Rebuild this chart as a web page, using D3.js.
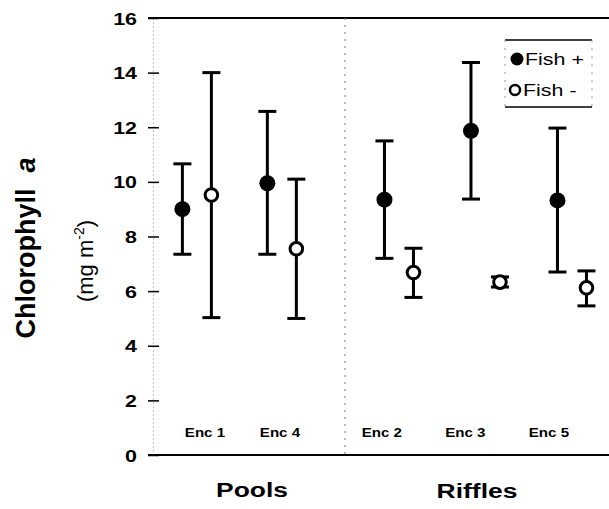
<!DOCTYPE html>
<html><head><meta charset="utf-8">
<script src="https://cdn.jsdelivr.net/npm/d3@7"></script>
<style>body{margin:0;background:#fff}svg{display:block}</style>
</head><body>
<script>
// ---- data ----
const groups = ["Pools", "Riffles"];
const poolEnclosures = ["Enc 1", "Enc 4"];
const riffleEnclosures = ["Enc 2", "Enc 3", "Enc 5"];
const seriesNames = ["Fish +", "Fish -"];
// Fish + (mean, low, high) in order Enc1, Enc4, Enc2, Enc3, Enc5
const enclosureOrder = ["Enc 1", "Enc 4", "Enc 2", "Enc 3", "Enc 5"];
const fishPlusMean = [9.0, 9.95, 9.35, 11.87, 9.32];
const fishPlusLow  = [7.35, 7.35, 7.2, 9.37, 6.7];
const fishPlusHigh = [10.66, 12.58, 11.5, 14.37, 11.97];
const fishMinusMean = [9.52, 7.55, 6.68, 6.33, 6.12];
const fishMinusLow  = [5.03, 5.0, 5.77, 6.15, 5.46];
const fishMinusHigh = [14.0, 10.1, 7.57, 6.52, 6.74];
const yTicks = [0, 2, 4, 6, 8, 10, 12, 14, 16];

// ---- layout ----
const W = 609, H = 509;
const plotLeft = 153, divider = 345, plotRight = 609, plotTop = 18, plotBottom = 455;
const svg = d3.select("body").append("svg").attr("width", W).attr("height", H);
const FONT = "Liberation Sans, Arial, Helvetica, sans-serif";
const SX = 1.26; // horizontal stretch of text in reference

const y = d3.scaleLinear().domain([0, 16]).range([plotBottom, plotTop]);
const xPools = d3.scalePoint().domain(poolEnclosures).range([plotLeft, divider]).padding(0.63).align(0.41);
const xRiffles = d3.scalePoint().domain(riffleEnclosures).range([divider, plotRight]).padding(0.526).align(0.593);
const lPools = d3.scalePoint().domain(poolEnclosures).range([plotLeft, divider]).padding(0.78).align(0.444);
const lRiffles = d3.scalePoint().domain(riffleEnclosures).range([divider, plotRight]).padding(0.58).align(0.38);
const xc = e => poolEnclosures.includes(e) ? xPools(e) : xRiffles(e);
const xl = e => poolEnclosures.includes(e) ? lPools(e) : lRiffles(e);
const dodge = d3.scalePoint().domain(seriesNames).range([-14.5, 14.5]);

function stext(parent, x, yy, str, size, weight, anchor) {
  return parent.append("text")
    .attr("transform", `translate(${x},${yy}) scale(${SX},1)`)
    .attr("text-anchor", anchor || "middle")
    .attr("font-family", FONT).attr("font-size", size).attr("font-weight", weight || "normal")
    .attr("fill", "#000").text(str);
}

// frame lines top/bottom
svg.append("line").attr("x1", 148).attr("x2", W).attr("y1", y(16)).attr("y2", y(16))
  .attr("stroke", "#000").attr("stroke-width", 2);
svg.append("line").attr("x1", 148).attr("x2", W).attr("y1", y(0)).attr("y2", y(0))
  .attr("stroke", "#000").attr("stroke-width", 2);
// divider
svg.append("line").attr("x1", divider).attr("x2", divider).attr("y1", plotTop).attr("y2", plotBottom)
  .attr("stroke", "#777").attr("stroke-width", 1).attr("stroke-dasharray", "2,5");

// y axis
const yAxis = d3.axisLeft(y).tickValues(yTicks).tickSize(0).tickPadding(0).tickFormat(d3.format("d"));
const ga = svg.append("g").attr("transform", `translate(${plotLeft},0)`).call(yAxis);
ga.select(".domain").attr("stroke", "#888").attr("stroke-width", 1).attr("stroke-dasharray", "1,3");
ga.selectAll(".tick line").attr("x1", -5).attr("x2", 6).attr("stroke", "#000").attr("stroke-width", 1.5);
ga.selectAll(".tick").each(function(d) {
  const t = d3.select(this);
  t.select("text").remove();
  stext(t, -16, 6, String(d), 17, "bold", "end");
});

// y title
const tt = svg.append("text").attr("transform", `translate(35,${248}) rotate(-90)`)
  .attr("text-anchor", "middle").attr("font-family", FONT).attr("font-size", 27).attr("font-weight", "bold");
tt.append("tspan").text("Chlorophyll");
tt.append("tspan").attr("dx", 16).attr("font-style", "italic").text("a");
const t2 = svg.append("text").attr("transform", `translate(93,${261}) rotate(-90)`)
  .attr("text-anchor", "middle").attr("font-family", FONT).attr("font-size", 22);
t2.append("tspan").text("(mg m");
t2.append("tspan").attr("dy", -9).attr("font-size", 14).text("-2");
t2.append("tspan").attr("dy", 9).text(")");

// enclosure labels
enclosureOrder.forEach(e => stext(svg, xl(e), 437, e, 12, "bold"));
// group labels
stext(svg, (plotLeft + divider) / 2 + 3, 497, groups[0], 21, "bold");
stext(svg, (divider + plotRight) / 2, 498, groups[1], 21, "bold");

// data points
const rows = [];
enclosureOrder.forEach((e, i) => {
  rows.push({enc: e, s: seriesNames[0], m: fishPlusMean[i], lo: fishPlusLow[i], hi: fishPlusHigh[i]});
  rows.push({enc: e, s: seriesNames[1], m: fishMinusMean[i], lo: fishMinusLow[i], hi: fishMinusHigh[i]});
});
const gp = svg.append("g").selectAll("g").data(rows).join("g")
  .attr("transform", d => `translate(${xc(d.enc) + dodge(d.s)},0)`);
gp.append("line").attr("y1", d => y(d.lo)).attr("y2", d => y(d.hi)).attr("stroke", "#000").attr("stroke-width", 3);
gp.append("line").attr("x1", -9).attr("x2", 9).attr("y1", d => y(d.lo)).attr("y2", d => y(d.lo)).attr("stroke", "#000").attr("stroke-width", 3);
gp.append("line").attr("x1", -9).attr("x2", 9).attr("y1", d => y(d.hi)).attr("y2", d => y(d.hi)).attr("stroke", "#000").attr("stroke-width", 3);
gp.append("circle").attr("cy", d => y(d.m))
  .attr("r", d => d.s === seriesNames[0] ? 8 : 6.3)
  .attr("fill", d => d.s === seriesNames[0] ? "#000" : "#fff")
  .attr("stroke", "#000").attr("stroke-width", d => d.s === seriesNames[0] ? 0 : 3);

// legend
const lg = svg.append("g");
lg.append("line").attr("x1", 505).attr("x2", 592).attr("y1", 40).attr("y2", 40).attr("stroke", "#000").attr("stroke-width", 1.5);
lg.append("line").attr("x1", 505).attr("x2", 592).attr("y1", 107).attr("y2", 107).attr("stroke", "#000").attr("stroke-width", 1.5);
lg.append("line").attr("x1", 505).attr("x2", 505).attr("y1", 40).attr("y2", 107).attr("stroke", "#999").attr("stroke-dasharray", "2,6");
lg.append("line").attr("x1", 592).attr("x2", 592).attr("y1", 40).attr("y2", 107).attr("stroke", "#999").attr("stroke-dasharray", "2,6");
lg.append("circle").attr("cx", 517).attr("cy", 59).attr("r", 6.5).attr("fill", "#000");
stext(lg, 525, 65, seriesNames[0], 17, "normal", "start");
lg.append("circle").attr("cx", 515).attr("cy", 90).attr("r", 5).attr("fill", "#fff").attr("stroke", "#000").attr("stroke-width", 2.5);
stext(lg, 523, 96, seriesNames[1], 17, "normal", "start");
</script>
</body></html>
